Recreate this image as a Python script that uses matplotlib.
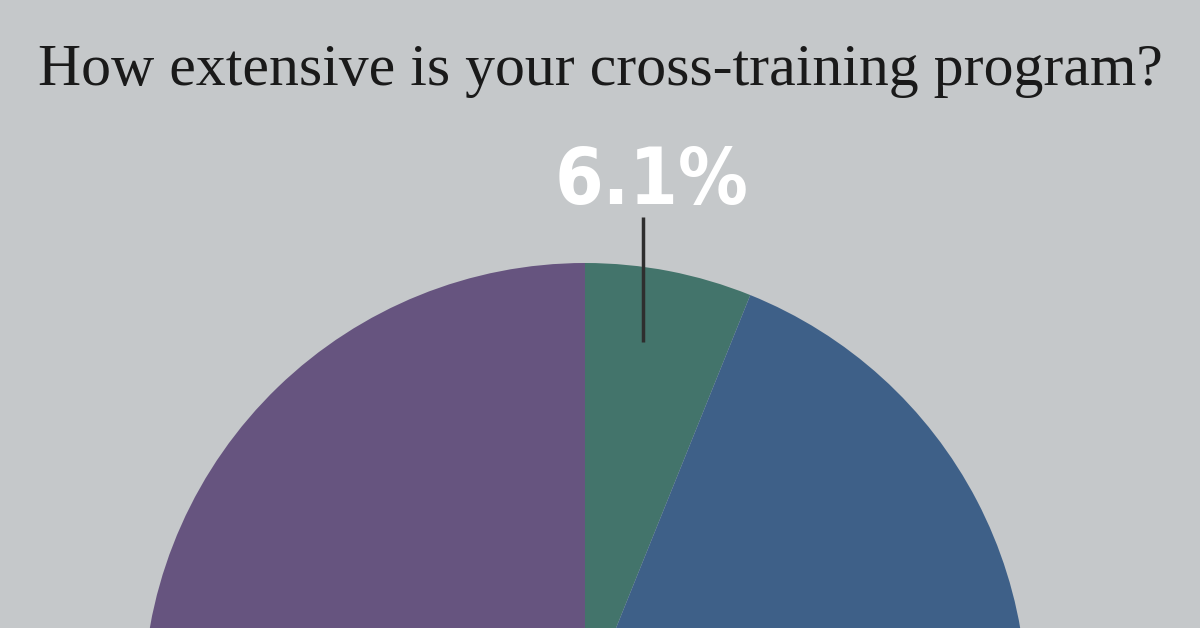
import matplotlib
matplotlib.use("Agg")
import matplotlib.pyplot as plt

# data
labels = ["Extensive", "Moderate", "Limited"]
shares = [6.1, 45.0, 48.9]
colors = ["#43746b", "#3e6088", "#66547f"]
title = "How extensive is your cross-training program?"

BG = "#c5c8ca"

fig = plt.figure(figsize=(12, 6.28), dpi=100, facecolor=BG)
ax = fig.add_axes([0, 0, 1, 1])
ax.set_facecolor(BG)

wedges, _ = ax.pie(shares, colors=colors, startangle=90, counterclock=False,
                   center=(585, -77), radius=442,
                   wedgeprops=dict(linewidth=0), frame=True)
ax.set_xlim(0, 1200)
ax.set_ylim(0, 628)
ax.set_aspect("equal")
ax.axis("off")

# label + leader line for the small slice
ax.plot([643, 643], [411, 286], color="#2e2e2e", lw=2.5, solid_capstyle="butt", zorder=5)
ax.text(652, 446, f"{shares[0]:.1f}%", color="white", fontsize=56, fontweight="bold",
        fontstretch="condensed", family="DejaVu Sans", ha="center", va="center")

fig.text(0.5, 1 - 71 / 628, title, color="#1a1a1a", fontsize=43,
         family="Liberation Serif", ha="center", va="center")

fig.savefig("out.png", dpi=100, facecolor=BG)
